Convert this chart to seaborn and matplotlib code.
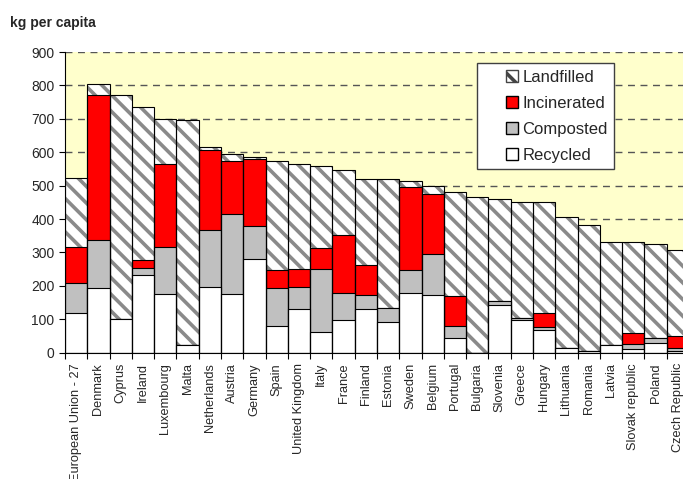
import numpy as np
import pandas as pd
import matplotlib
matplotlib.use('Agg')
import matplotlib.pyplot as plt
from matplotlib.patches import Patch, Rectangle
from matplotlib.legend_handler import HandlerPatch
import seaborn as sns

countries = ['European Union - 27', 'Denmark', 'Cyprus', 'Ireland', 'Luxembourg', 'Malta',
             'Netherlands', 'Austria', 'Germany', 'Spain', 'United Kingdom', 'Italy', 'France',
             'Finland', 'Estonia', 'Sweden', 'Belgium', 'Portugal', 'Bulgaria', 'Slovenia',
             'Greece', 'Hungary', 'Lithuania', 'Romania', 'Latvia', 'Slovak republic', 'Poland',
             'Czech Republic']

# kg per capita
recycled = [120, 193, 100, 234, 175, 22, 197, 175, 279, 80, 130, 62, 98, 131,
            93, 180, 173, 43, 0, 143, 97, 68, 13, 5, 22, 11, 28, 5]
composted = [89, 144, 0, 21, 140, 0, 169, 240, 100, 114, 67, 190, 80, 41,
             41, 67, 122, 38, 0, 13, 7, 9, 2, 0, 0, 16, 15, 8]
incinerated = [106, 433, 0, 22, 251, 0, 242, 159, 202, 53, 55, 60, 174, 89,
               0, 249, 179, 90, 0, 0, 0, 41, 0, 0, 0, 31, 0, 38]
landfilled = [209, 33, 670, 457, 134, 674, 8, 20, 6, 328, 313, 248, 196, 260,
              385, 18, 25, 311, 467, 303, 348, 334, 392, 377, 310, 272, 281, 256]

df = pd.DataFrame({'country': countries, 'Recycled': recycled, 'Composted': composted,
                   'Incinerated': incinerated, 'Landfilled': landfilled})
df['c1'] = df['Recycled']
df['c2'] = df['c1'] + df['Composted']
df['c3'] = df['c2'] + df['Incinerated']
df['c4'] = df['c3'] + df['Landfilled']

sns.set_style('white')
plt.rcParams['font.family'] = ['Liberation Sans', 'DejaVu Sans']
plt.rcParams['hatch.linewidth'] = 2.6

fig = plt.figure(figsize=(6.83, 4.79), dpi=100)
ax = fig.add_axes([65 / 683, 1 - 352.7 / 479, 624 / 683, 300.7 / 479])
ax.set_facecolor('#FFFFCC')

# landfilled = full height, hatched
sns.barplot(data=df, x='country', y='c4', color='white', edgecolor='#8a8a8a', hatch='\\\\',
            linewidth=0, width=1, saturation=1, errorbar=None, ax=ax)
sns.barplot(data=df, x='country', y='c3', color='#FF0000', edgecolor='black',
            linewidth=0.8, width=1, saturation=1, errorbar=None, ax=ax)
sns.barplot(data=df, x='country', y='c2', color='#C0C0C0', edgecolor='black',
            linewidth=0.8, width=1, saturation=1, errorbar=None, ax=ax)
sns.barplot(data=df, x='country', y='c1', color='white', edgecolor='black',
            linewidth=0.8, width=1, saturation=1, errorbar=None, ax=ax)
n0 = len(ax.patches)
sns.barplot(data=df, x='country', y='c4', color='white', edgecolor='black',
            linewidth=0.8, width=1, saturation=1, errorbar=None, ax=ax)
for p in ax.patches[n0:]:
    p.set_facecolor('none')

ax.set_xlim(-0.5, len(countries) - 0.5)
ax.set_ylim(0, 900)
ax.set_yticks(range(0, 901, 100))
ax.yaxis.grid(True, linestyle=(0, (5, 4)), color='#555555', linewidth=1)
ax.xaxis.grid(False)
ax.set_axisbelow(True)

ax.set_xticks(range(len(countries)))
ax.set_xticklabels(countries, rotation=90, fontsize=9.2)
ax.set_xticks(np.arange(-0.5, len(countries), 1), minor=True)
ax.tick_params(axis='x', which='major', length=0, pad=7.5)
ax.tick_params(axis='x', which='minor', length=4, width=0.8, color='black', direction='out')
ax.tick_params(axis='y', length=4, width=0.8, color='black', direction='out', labelsize=10)
ax.tick_params(bottom=True, left=True, which='both')
ax.set_xlabel('')
ax.set_ylabel('')
for s in ['top', 'right']:
    ax.spines[s].set_visible(False)
for s in ['left', 'bottom']:
    ax.spines[s].set_color('black')
    ax.spines[s].set_linewidth(0.8)

fig.text(10 / 683, 1 - 27 / 479, 'kg per capita', fontsize=10, fontweight='bold', va='baseline')


def square(legend, orig_handle, xdescent, ydescent, width, height, fontsize):
    h = height * 1.05
    return Rectangle((width - h - xdescent, -ydescent - (h - height) / 2), h, h)


handles = [Patch(facecolor='white', edgecolor='#444444', hatch='\\\\', label='Landfilled'),
           Patch(facecolor='#FF0000', edgecolor='black', label='Incinerated'),
           Patch(facecolor='#C0C0C0', edgecolor='black', label='Composted'),
           Patch(facecolor='white', edgecolor='black', label='Recycled')]
leg = fig.legend(handles=handles, loc='upper left', bbox_to_anchor=(477 / 683, 1 - 63 / 479),
                 fontsize=12, frameon=True, fancybox=False, framealpha=1, borderpad=0.4,
                 handlelength=2.07, handleheight=0.7, handletextpad=0.25, labelspacing=0.66,
                 borderaxespad=0, handler_map={Patch: HandlerPatch(patch_func=square)})
leg.get_frame().set_edgecolor('#404040')
leg.get_frame().set_linewidth(1)

fig.savefig('out.png', dpi=100)
